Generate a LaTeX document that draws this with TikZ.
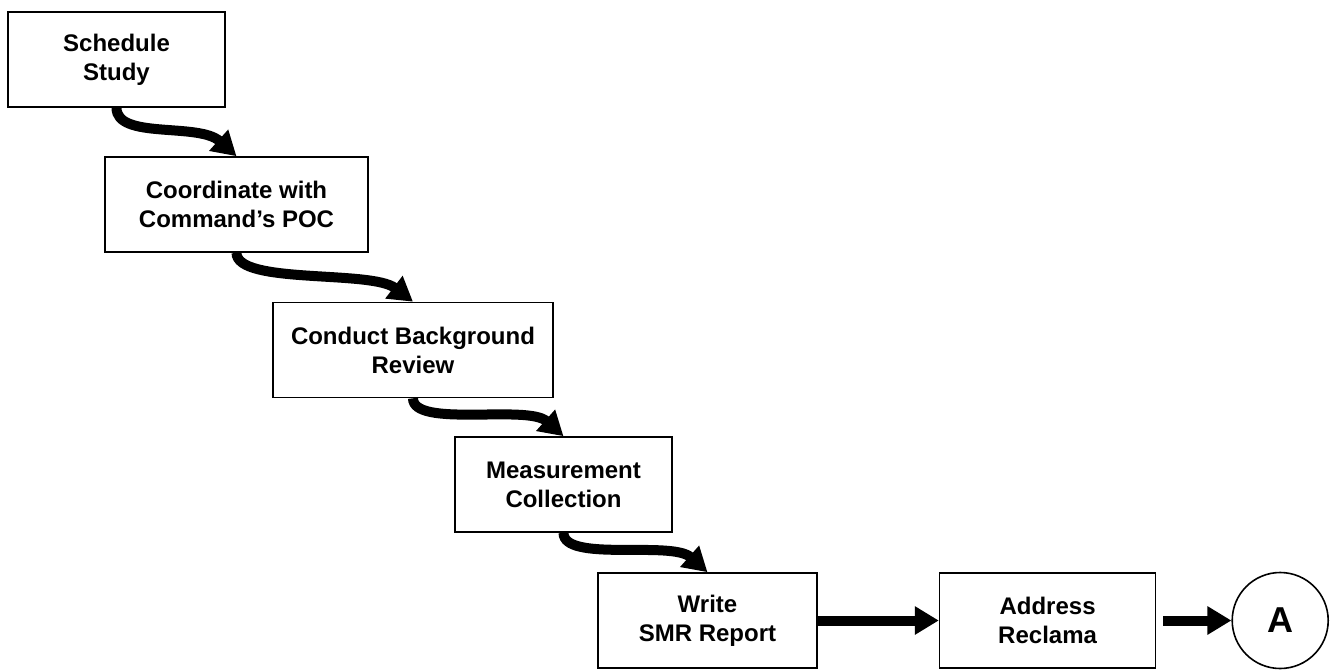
\documentclass[tikz,border=0pt]{standalone}
\usepackage{fontspec}
\setmainfont{Liberation Sans}
\usetikzlibrary{positioning, arrows.meta}

\begin{document}
\begin{tikzpicture}[
    x=1pt, y=1pt,
    block/.style={draw, line width=1.6pt, align=center, minimum height=95pt, inner sep=0pt,
        font=\fontsize{24}{29}\selectfont\bfseries},
    arrow/.style={-{Triangle[length=24pt, width=27pt]}, line width=10pt}
]
    \useasboundingbox (0,0) rectangle (1331,-670);

    % Etapas
    \node[block, minimum width=217pt] (sched) at (116.5,-59.5) {Schedule\\Study};
    \node[block, minimum width=263pt] (coord) at (236.5,-204.5) {Coordinate with\\Command's POC};
    \node[block, minimum width=280pt] (review) at (413,-350) {Conduct Background\\Review};
    \node[block, minimum width=217pt] (meas) at (563.5,-484.5) {Measurement\\Collection};
    \node[block, minimum width=219pt] (report) at (707.5,-620.5) {Write\\SMR Report};
    \node[block, minimum width=216pt, right=121pt of report] (reclama) {Address\\Reclama};

    % Conector
    \node[draw, circle, line width=1.6pt, minimum size=96pt, inner sep=0pt, right=75pt of reclama,
        font=\fontsize{36}{36}\selectfont\bfseries] (conn) {A};

    % Setas
    \draw[arrow] (sched.south) .. controls +(0,-32) and +(-38,34) .. (coord.north);
    \draw[arrow] (coord.south) .. controls +(0,-32) and +(-42,32) .. (review.north);
    \draw[arrow] (review.south) .. controls +(0,-30) and +(-36,32) .. (meas.north);
    \draw[arrow] (meas.south) .. controls +(0,-30) and +(-36,32) .. (report.north);

    \draw[arrow] (report) -- (reclama);
    \draw[arrow, shorten <=7pt] (reclama) -- (conn);

\end{tikzpicture}
\end{document}
